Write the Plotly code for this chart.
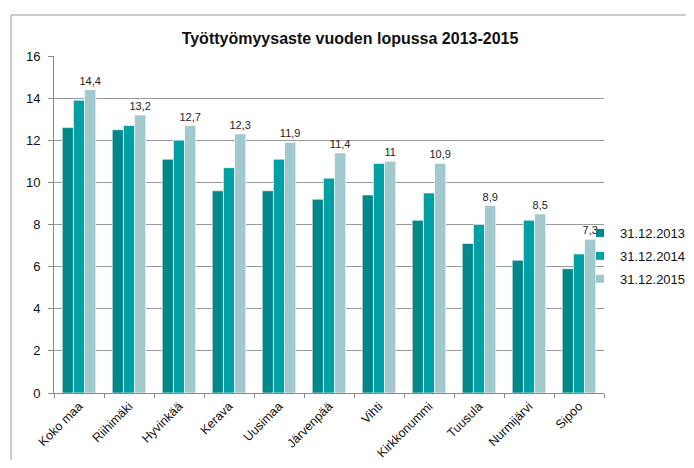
import plotly.graph_objects as go

categories = ["Koko maa", "Riihimäki", "Hyvinkää", "Kerava", "Uusimaa", "Järvenpää",
              "Vihti", "Kirkkonummi", "Tuusula", "Nurmijärvi", "Sipoo"]
series_names = ["31.12.2013", "31.12.2014", "31.12.2015"]
v2013 = [12.6, 12.5, 11.1, 9.6, 9.6, 9.2, 9.4, 8.2, 7.1, 6.3, 5.9]
v2014 = [13.9, 12.7, 12.0, 10.7, 11.1, 10.2, 10.9, 9.5, 8.0, 8.2, 6.6]
v2015 = [14.4, 13.2, 12.7, 12.3, 11.9, 11.4, 11.0, 10.9, 8.9, 8.5, 7.3]
colors = ["#01878A", "#00A0A4", "#A1C9CD"]
y_ticks = [0, 2, 4, 6, 8, 10, 12, 14, 16]

# page body has an 8px margin; figure is sized/positioned to compensate
W, H = 678, 452
L, T, PW, PH = 46, 48, 550, 337
R, B = W - L - PW, H - T - PH


def fi_label(v):
    s = f"{v:.1f}".replace(".", ",")
    return s[:-2] if s.endswith(",0") else s


fig = go.Figure()
for i, (name, vals, col) in enumerate(zip(series_names, [v2013, v2014, v2015], colors)):
    show_text = name == series_names[-1]
    fig.add_trace(go.Bar(
        x=categories, y=vals, name=name, showlegend=False, legendgroup=f"g{i}",
        marker=dict(color=col, line=dict(color="white", width=0.6)),
        text=[fi_label(v) for v in vals] if show_text else None,
        textposition="outside" if show_text else None,
        constraintext="none",
        textfont=dict(family="Arial, Liberation Sans", size=11, color="#222"),
        cliponaxis=False,
    ))
    # legend entry with a small square marker
    fig.add_trace(go.Scatter(
        x=[None], y=[None], name=name, mode="markers", legendgroup=f"g{i}",
        marker=dict(symbol="square", size=8, color=col),
        showlegend=True, hoverinfo="skip",
    ))

fig.update_layout(
    width=W, height=H,
    margin=dict(l=L, r=R, t=T, b=B, autoexpand=False),
    paper_bgcolor="white", plot_bgcolor="white",
    barmode="group", bargap=0.33, bargroupgap=0,
    font=dict(family="Arial, Liberation Sans", size=13, color="#111"),
    title=dict(text="<b>Työttyömyysaste vuoden lopussa 2013-2015</b>",
               x=342 / W, xref="container", xanchor="center",
               y=(H - 30) / H, yanchor="middle",
               font=dict(size=16, color="#111")),
    legend=dict(x=(572 - L) / PW, xanchor="left", y=(385 - 248) / PH, yanchor="middle",
                font=dict(size=13, color="#111"), itemwidth=30,
                tracegroupgap=3, bgcolor="rgba(0,0,0,0)"),
    showlegend=True,
    xaxis=dict(tickangle=-45, showline=True, linecolor="#888", linewidth=1,
               ticks="outside", tickson="boundaries", ticklen=4, tickcolor="#888",
               tickfont=dict(size=12.5, color="#111")),
    yaxis=dict(range=[0, 16], tickvals=y_ticks, showgrid=True, gridcolor="#999",
               gridwidth=1, showline=True, linecolor="#888", linewidth=1,
               ticks="outside", ticklen=5, tickcolor="#888", zeroline=False,
               ticklabelstandoff=5,
               tickfont=dict(size=13, color="#111")),
)

fig.add_shape(type="rect", xref="paper", yref="paper",
              x0=(3 - L) / PW, x1=(720 - L) / PW,
              y0=(385 - 480) / PH, y1=(385 - 7) / PH,
              line=dict(color="#999", width=1), fillcolor="rgba(0,0,0,0)", layer="below")

fig.write_html("out.html")
